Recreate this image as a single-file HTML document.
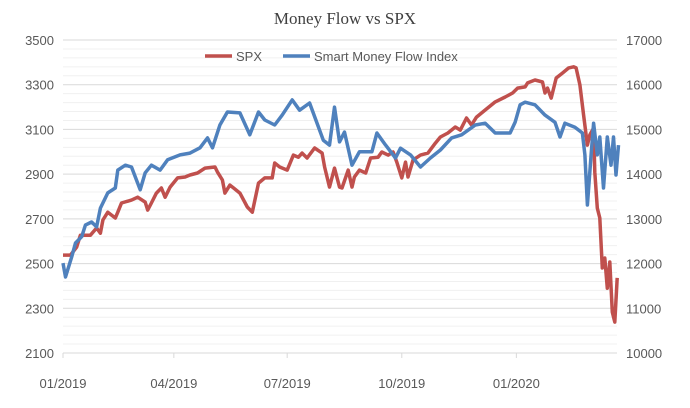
<!DOCTYPE html>
<html><head><meta charset="utf-8"><style>
body{margin:0;background:#fff;}
svg{display:block;font-family:"Liberation Sans",sans-serif;}
</style></head><body>
<svg id="chart" width="690" height="408" viewBox="0 0 690 408" xmlns="http://www.w3.org/2000/svg">
<rect width="690" height="408" fill="#fff"/>
<text x="345" y="24" text-anchor="middle" font-family="Liberation Serif, serif" font-size="17" fill="#404040">Money Flow vs SPX</text>
<g id="grid"></g><g id="axes"></g><g id="series"></g>
<g>
<g><line x1="205" y1="56" x2="232" y2="56" stroke="#C0504D" stroke-width="3.5"/><text x="236" y="61" font-size="13" fill="#595959">SPX</text></g>
<g><line x1="283" y1="56" x2="310" y2="56" stroke="#4F81BD" stroke-width="3.5"/><text x="314" y="61" font-size="13" fill="#595959">Smart Money Flow Index</text></g>
</g>
</svg>
<script>
const leftTicks=[2100,2300,2500,2700,2900,3100,3300,3500];
const rightTicks=[10000,11000,12000,13000,14000,15000,16000,17000];
const xTickDays=[0,89,180,272,364];
const xTickLabels=["01/2019","04/2019","07/2019","10/2019","01/2020"];
const spxDays=[0,6,11,14,22,27,30,32,36,42,44,47,55,60,66,68,71,75,79,82,86,92,98,102,108,114,122,124,128,130,134,137,142,148,152,157,162,168,170,174,180,185,189,192,196,202,208,210,214,218,222,224,229,232,234,238,243,247,253,256,261,265,268,272,275,277,281,287,293,299,303,309,315,319,324,328,332,339,347,355,361,365,371,373,379,385,387,389,392,396,401,406,410,412,415,418,421,423,426,427,429,431,433,435,437,439,441,443,445];
const spxValues=[2538,2538,2574,2627,2627,2659,2636,2695,2730,2704,2730,2771,2784,2797,2775,2739,2771,2815,2838,2797,2842,2883,2887,2896,2905,2927,2932,2910,2874,2815,2851,2838,2815,2753,2730,2860,2883,2883,2950,2932,2918,2985,2976,2994,2972,3017,2994,2932,2842,2927,2842,2838,2918,2842,2887,2918,2905,2972,2976,2999,2985,2999,2954,2883,2954,2887,2963,2985,2994,3039,3066,3084,3111,3097,3151,3120,3155,3187,3223,3245,3263,3285,3290,3308,3321,3312,3263,3285,3240,3330,3352,3375,3380,3375,3299,3164,3030,3075,3106,2909,2748,2704,2480,2525,2390,2507,2283,2238,2436];
const smfiDays=[0,2,7,10,15,18,23,27,30,36,42,44,50,55,62,66,71,78,84,94,102,110,116,120,126,132,142,150,157,162,170,176,184,190,198,209,214,218,222,226,232,238,248,252,259,267,271,279,287,295,303,312,320,331,339,347,359,363,367,371,379,387,395,399,403,411,417,419,421,424,426,429,431,434,437,440,442,444,446];
const smfiValues=[12010,11700,12150,12460,12600,12860,12930,12820,13240,13580,13690,14090,14200,14160,13650,14030,14200,14090,14320,14430,14470,14590,14810,14590,15100,15390,15370,14880,15390,15210,15100,15320,15660,15430,15590,14760,14650,15500,14720,14940,14200,14500,14500,14920,14650,14360,14580,14430,14160,14360,14540,14810,14880,15100,15140,14920,14920,15160,15550,15610,15550,15320,15160,14830,15140,15050,14920,14430,13310,14430,15140,14430,14830,13690,14830,14200,14830,13980,14650];

const NS="http://www.w3.org/2000/svg";
const X0=63,X1=617,Y0=40,Y1=353;
const xS=d=>X0+d*1.2455;
const yL=v=>Y1-(v-2100)/(3500-2100)*(Y1-Y0);
const yR=v=>Y1-(v-10000)/(17000-10000)*(Y1-Y0);
function mk(tag,attrs,parent){const e=document.createElementNS(NS,tag);for(const k in attrs)e.setAttribute(k,attrs[k]);parent.appendChild(e);return e;}
const grid=document.getElementById('grid'),axes=document.getElementById('axes'),series=document.getElementById('series');
for(let v=2100;v<=3500;v+=40){
  const major=(v-2100)%200===0;
  const l=mk('line',{x1:X0,x2:X1,y1:yL(v),y2:yL(v),stroke:major?'#d9d9d9':'#f0f0f0','stroke-width':1},grid);
  
  
}
leftTicks.forEach(v=>{
  const t=mk('text',{x:54,y:yL(v)+5,'text-anchor':'end','font-size':13,fill:'#595959'},axes);
  
  
  t.textContent=v;
});
rightTicks.forEach(v=>{
  const t=mk('text',{x:626,y:yR(v)+5,'font-size':13,fill:'#595959'},axes);
  
  
  t.textContent=v;
});
const ax=mk('line',{x1:X0,x2:X1,y1:Y1,y2:Y1,stroke:'#d9d9d9'},axes);


xTickDays.forEach((d,i)=>{
  const tk=mk('line',{x1:xS(d),x2:xS(d),y1:Y1,y2:Y1+5,stroke:'#d9d9d9'},axes);
  
  
  const t=mk('text',{x:xS(d),y:388,'text-anchor':'middle','font-size':13,fill:'#595959'},axes);
  
  
  t.textContent=xTickLabels[i];
});
function path(days,vals,ys){return days.map((d,i)=>(i?'L':'M')+xS(d).toFixed(1)+','+ys(vals[i]).toFixed(1)).join(' ');}
const spx=mk('path',{d:path(spxDays,spxValues,yL),fill:'none',stroke:'#C0504D','stroke-width':3.5,'stroke-linejoin':'round'},series);


const smfi=mk('path',{d:path(smfiDays,smfiValues,yR),fill:'none',stroke:'#4F81BD','stroke-width':3.5,'stroke-linejoin':'round'},series);


</script>
</body></html>
